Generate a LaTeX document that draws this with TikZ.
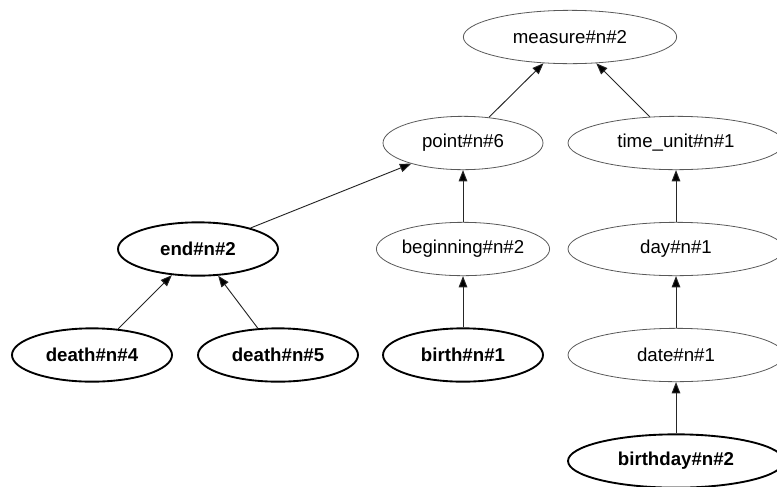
\documentclass[tikz,border=0pt]{standalone}
\usepackage{fontspec}
\setmainfont{Liberation Sans}
\usepackage{tikz}
\usetikzlibrary{positioning}
\usetikzlibrary{arrows.meta,shapes.geometric}

\begin{document}
\begin{tikzpicture}[->,>={Triangle[length=8.5pt,width=6.5pt]},x=0.75pt,y=0.75pt,node distance=79.5pt,
    syn/.style={ellipse,draw=black!65,line width=0.6pt,inner sep=0pt,minimum width=120pt,minimum height=40pt,font=\fontsize{14}{16}\selectfont},
    lex/.style={syn,draw=black,line width=1.4pt,font=\fontsize{14}{16}\selectfont\bfseries},
    wide/.style={minimum width=162pt}]
  \useasboundingbox (0,0) rectangle (777,-486);
  \node[syn,minimum width=160pt] (measure) at (570,-37) {measure\#n\#2};
  % middle column
  \node[lex] (birth) at (463,-355) {birth\#n\#1};
  \node[syn] (beginning) [above of=birth] {beginning\#n\#2};
  \node[syn] (point) [above of=beginning] {point\#n\#6};
  % right column
  \node[lex,wide] (birthday) at (676,-461) {birthday\#n\#2};
  \node[syn,wide] (date) [above of=birthday] {date\#n\#1};
  \node[syn,wide] (day) [above of=date] {day\#n\#1};
  \node[syn,wide] (timeunit) [above of=day] {time\_unit\#n\#1};
  % left branch
  \node[lex] (ending) at (198,-249) {end\#n\#2};
  \node[lex] (death4) at (92,-355) {death\#n\#4};
  \node[lex] (death5) at (278,-355) {death\#n\#5};
\path[line width=0.7pt,draw=black!85]
  (death4) edge (ending)
  (death5) edge (ending)
  (ending) edge (point)
  (birth) edge (beginning)
  (beginning) edge (point)
  (point) edge (measure)
  (birthday) edge (date)
  (date) edge (day)
  (day) edge (timeunit)
  (timeunit) edge (measure);
\end{tikzpicture}
\end{document}
